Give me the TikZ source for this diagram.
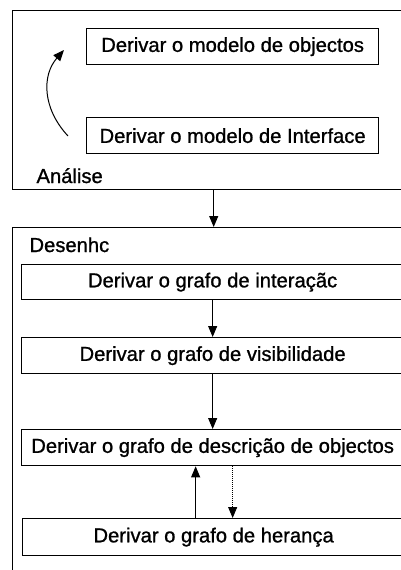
\documentclass[tikz,border=0pt]{standalone}
\usepackage{fontspec}
\setmainfont{Liberation Sans}[FakeBold=1]
\usetikzlibrary{arrows.meta}
\begin{document}
\begin{tikzpicture}
[
  x=1pt, y=-1pt,
  every node/.style={font=\fontsize{20.2}{24}\selectfont},
  fase/.style={draw, line width=1.4pt, inner sep=0pt, anchor=north west},
  passo/.style={draw, line width=1.3pt, inner sep=0pt, minimum height=36pt, anchor=north west},
  seta/.style={-{Triangle[length=11pt,width=9pt]}, line width=1pt},
]
\useasboundingbox (0,0) rectangle (401,570);
\clip (0,0) rectangle (401,570);

% Analise
\node[fase, minimum width=402pt, minimum height=179pt] (analise) at (12,10) {};
\node[anchor=base west] (lbl-analise) at (33,183) {Análise};
\node[passo, minimum width=292pt] (objectos) at (86,28) {Derivar o modelo de objectos};
\node[passo, minimum width=292pt] (interface) at (86,117) {Derivar o modelo de Interface};
\coordinate (c-ini) at (68,136);
\coordinate (c-fim) at (64,50);
\draw[seta] (c-ini) .. controls (42,108) and (42,75) .. (c-fim);

% Desenho
\node[fase, minimum width=400pt, minimum height=400pt] (desenho) at (12,227) {};
\node[anchor=base west] (lbl-desenho) at (26,252) {Desenhc};
\node[passo, minimum width=382pt, minimum height=35pt] (interacao) at (21,264) {Derivar o grafo de interaçãc};
\node[passo, minimum width=382pt] (visibilidade) at (21,337) {Derivar o grafo de visibilidade};
\node[passo, minimum width=382pt] (descricao) at (21,429) {Derivar o grafo de descrição de objectos};
\node[passo, minimum width=382pt, minimum height=37pt] (heranca) at (22,518) {Derivar o grafo de herança};

\draw[seta] (analise.south) -- (analise.south |- desenho.north);
\draw[seta] (interacao) -- (visibilidade);
\draw[seta] (visibilidade) -- (descricao);
\draw[seta] ([xshift=-18pt]heranca.north) -- ([xshift=-18pt]heranca.north |- descricao.south);
\draw[seta, densely dotted] ([xshift=20pt]descricao.south) -- ([xshift=20pt]descricao.south |- heranca.north);

\end{tikzpicture}
\end{document}
